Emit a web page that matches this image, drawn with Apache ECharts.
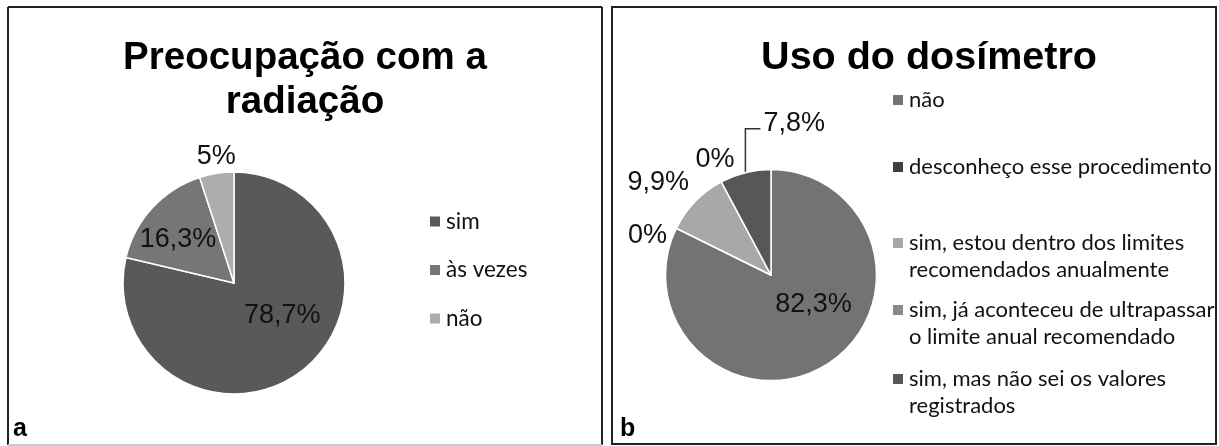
<!DOCTYPE html>
<html>
<head>
<meta charset="utf-8">
<script src="https://cdn.jsdelivr.net/npm/echarts@6/dist/echarts.min.js"></script>
<style>
html,body{margin:0;padding:0;background:#fff;}
#chart{width:1219px;height:446px;}
</style>
</head>
<body>
<div id="chart"></div>
<script>
// ---- data ----
var titleA = 'Preocupação com a\nradiação';
var titleB = 'Uso do dosímetro';
var categoriesA = ['sim', 'às vezes', 'não'];
var valuesA = [78.7, 16.3, 5];
var categoriesB = [
  'não',
  'desconheço esse procedimento',
  'sim, estou dentro dos limites recomendados anualmente',
  'sim, já aconteceu de ultrapassar o limite anual recomendado',
  'sim, mas não sei os valores registrados'
];
var legendLinesB = [
  ['não'],
  ['desconheço esse procedimento'],
  ['sim, estou dentro dos limites', 'recomendados anualmente'],
  ['sim, já aconteceu de ultrapassar', 'o limite anual recomendado'],
  ['sim, mas não sei os valores', 'registrados']
];
var valuesB = [82.3, 0, 9.9, 0, 7.8];

// ---- styles ----
var colorsA = ['#595959', '#767676', '#adadad'];
var colorsB = ['#737373', '#3f3f3f', '#a8a8a8', '#8a8a8a', '#575757'];
var labelPosA = ['inside', 'inside', 'outside'];
var labelOffA = [[12, -13], [-13, -4], [25, -11]];
var labelPosB = ['inside', 'outside', 'outside', 'outside', 'outside'];
var labelOffB = [[13, -18], [1, 10], [3, -15], [21, -17], [0, 0]];
var legendCentersB = [100, 167, 243, 310, 379];
var LH = 27;

function fmt(v) { return String(v).replace('.', ',') + '%'; }

var labelFont = { fontFamily: 'Liberation Sans', fontSize: 27, color: '#111' };

function buildData(cats, vals, colors, pos, offs) {
  return cats.map(function (c, i) {
    return {
      name: c, value: vals[i],
      itemStyle: { color: colors[i] },
      label: { position: pos[i], offset: offs[i] }
    };
  });
}

var legendText = { fontFamily: 'Lato', fontSize: 22, color: '#111', lineHeight: LH };

var legends = [{
  orient: 'vertical', left: 428, top: 208, itemGap: 21.5, padding: 0,
  itemWidth: 12, itemHeight: 12, icon: 'rect',
  data: categoriesA.map(function (c, i) { return { name: c, itemStyle: { color: colorsA[i] } }; }),
  textStyle: Object.assign({}, legendText, { fontSize: 22.5 })
}];
categoriesB.forEach(function (c, i) {
  var lines = legendLinesB[i];
  var n = lines.length;
  var extra = n - 1;               // blank lines on top so the icon sits at the first line
  var txt = (extra > 0 ? new Array(extra + 1).join(' \n') : '') + lines.join('\n');
  var h = (n + extra) * LH;
  legends.push({
    orient: 'vertical', left: 891, top: legendCentersB[i] - h / 2, padding: 0,
    itemWidth: 12, itemHeight: 12, icon: 'rect',
    data: [{ name: c, itemStyle: { color: colorsB[i] } }],
    formatter: function () { return txt; },
    textStyle: legendText
  });
});

var chart = echarts.init(document.getElementById('chart'));
chart.setOption({
  animation: false,
  title: [{
    text: titleA, left: 300, top: 31, textAlign: 'center',
    textStyle: { fontFamily: 'Liberation Sans', fontWeight: 'bold', fontSize: 38.5, lineHeight: 44, color: '#000' }
  }, {
    text: titleB, left: 924, top: 31, textAlign: 'center',
    textStyle: { fontFamily: 'Liberation Sans', fontWeight: 'bold', fontSize: 39.5, lineHeight: 44, color: '#000' }
  }],
  legend: legends,
  graphic: [
    { type: 'line', shape: { x1: 8, y1: 7, x2: 602, y2: 7 }, style: { stroke: '#222', lineWidth: 2 } },
    { type: 'line', shape: { x1: 8, y1: 7, x2: 8, y2: 445 }, style: { stroke: '#222', lineWidth: 2 } },
    { type: 'line', shape: { x1: 602, y1: 7, x2: 602, y2: 445 }, style: { stroke: '#222', lineWidth: 2 } },
    { type: 'line', shape: { x1: 8, y1: 445, x2: 602, y2: 445 }, style: { stroke: '#c8c8c8', lineWidth: 2 } },
    { type: 'rect', shape: { x: 612, y: 7, width: 604, height: 437 }, style: { fill: 'none', stroke: '#222', lineWidth: 2 } },
    { type: 'text', left: 13, top: 417, style: { text: 'a', font: 'bold 25px "Liberation Sans"', fill: '#000' } },
    { type: 'text', left: 620, top: 417, style: { text: 'b', font: 'bold 25px "Liberation Sans"', fill: '#000' } }
  ],
  series: [{
    type: 'pie', center: [234, 283], radius: 111, startAngle: 90, clockwise: true,
    avoidLabelOverlap: false,
    itemStyle: { borderColor: '#fff', borderWidth: 1.5 },
    label: Object.assign({ formatter: function (p) { return fmt(p.value); } }, labelFont),
    labelLine: { show: false, length: 6, length2: 0 },
    emphasis: { disabled: true },
    data: buildData(categoriesA, valuesA, colorsA, labelPosA, labelOffA)
  }, {
    type: 'pie', center: [771, 275], radius: 105.5, startAngle: 90, clockwise: true,
    avoidLabelOverlap: false,
    itemStyle: { borderColor: '#fff', borderWidth: 1.5 },
    label: Object.assign({ formatter: function (p) { return fmt(p.value); } }, labelFont),
    labelLine: { show: false, length: 6, length2: 0 },
    emphasis: { disabled: true },
    labelLayout: function (p) {
      if (p.dataIndex !== 4 || !p.labelLinePoints) return {};
      var s = p.labelLinePoints[0];
      var topY = s[1] - 44;
      return {
        x: s[0] + 18, y: topY - 5, align: 'left', verticalAlign: 'middle',
        labelLinePoints: [[s[0], s[1]], [s[0], topY], [s[0] + 15, topY]]
      };
    },
    data: buildData(categoriesB, valuesB, colorsB, labelPosB, labelOffB).map(function (d, i) {
      if (i === 4) { d.labelLine = { show: true, lineStyle: { color: '#333', width: 1.5 } }; }
      return d;
    })
  }]
});
</script>
</body>
</html>
